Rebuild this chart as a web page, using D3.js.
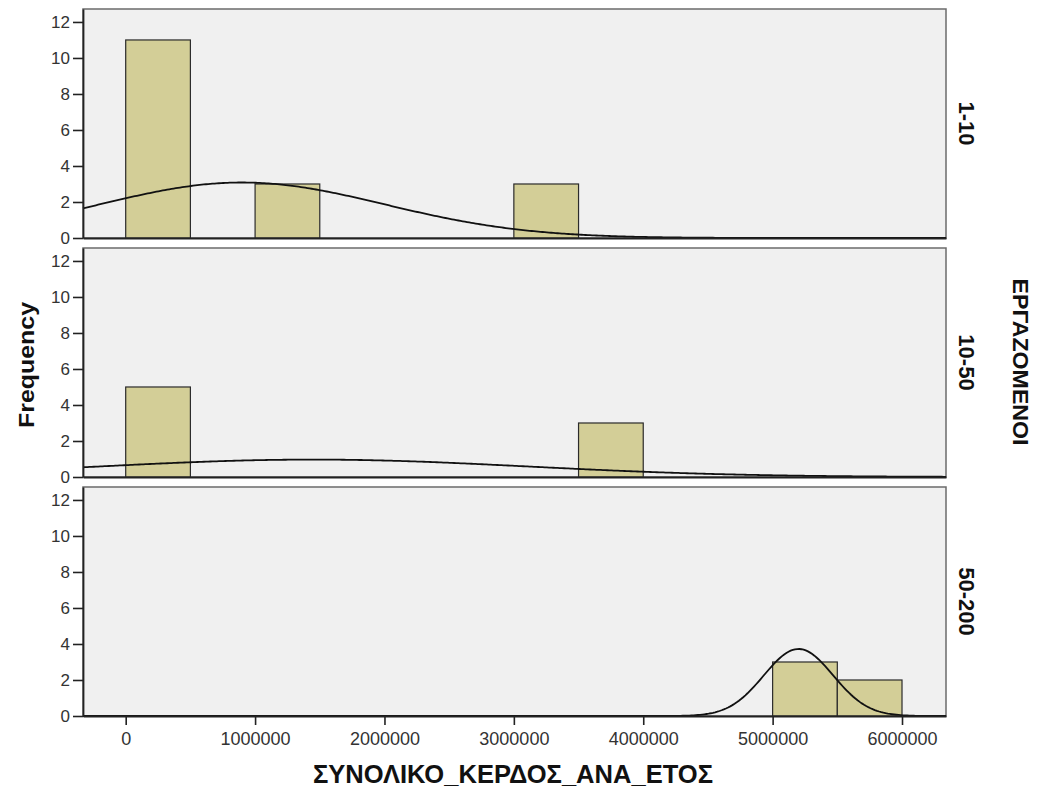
<!DOCTYPE html>
<html><head><meta charset="utf-8">
<script src="https://cdn.jsdelivr.net/npm/d3@7"></script>
<style>body{margin:0;background:#fff}svg{display:block}</style>
</head><body>
<svg id="c" width="1043" height="793"></svg>
<script>
// ---- data ----
const categories = ["1-10", "10-50", "50-200"];
const binEdges = [0, 500000, 1000000, 1500000, 2000000, 2500000, 3000000, 3500000, 4000000, 4500000, 5000000, 5500000, 6000000];
const counts1 = [11, 0, 3, 0, 0, 0, 3, 0, 0, 0, 0, 0];
const counts2 = [5, 0, 0, 0, 0, 0, 0, 3, 0, 0, 0, 0];
const counts3 = [0, 0, 0, 0, 0, 0, 0, 0, 0, 0, 3, 2];
const fitMeans = [900000, 1450000, 5200000];
const fitSDs = [1100000, 1650000, 268000];
const yTicks = [0, 2, 4, 6, 8, 10, 12];
const xTicks = [0, 1000000, 2000000, 3000000, 4000000, 5000000, 6000000];
const xTitle = "ΣΥΝΟΛΙΚΟ_ΚΕΡΔΟΣ_ΑΝΑ_ΕΤΟΣ";
const yTitle = "Frequency";
const facetTitle = "ΕΡΓΑΖΟΜΕΝΟΙ";

const allCounts = [counts1, counts2, counts3];

const svg = d3.select("#c");
const left = 83, right = 946;
const panelTops = [9, 248, 487];
const panelH = 229;
const font = "'Liberation Sans', Arial, sans-serif";

const x = d3.scaleLinear().domain([-330000, 6340000]).range([left, right]);
const binW = binEdges[1] - binEdges[0];

categories.forEach((cat, i) => {
  const top = panelTops[i], bottom = top + panelH;
  const y = d3.scaleLinear().domain([0, 12.72]).range([bottom, top]);
  const g = svg.append("g");
  g.append("rect").attr("x", left).attr("y", top).attr("width", right - left).attr("height", panelH)
    .attr("fill", "#f0f0f0").attr("stroke", "#6b6b6b").attr("stroke-width", 1.5);

  const counts = allCounts[i];
  const n = d3.sum(counts);
  const bins = counts.map((c, k) => ({x0: binEdges[k], x1: binEdges[k + 1], c})).filter(d => d.c > 0);
  g.selectAll("rect.bar").data(bins).join("rect").attr("class", "bar")
    .attr("x", d => x(d.x0)).attr("width", d => x(d.x1) - x(d.x0))
    .attr("y", d => y(d.c)).attr("height", d => y(0) - y(d.c))
    .attr("fill", "#d3ce97").attr("stroke", "#2b2b2b").attr("stroke-width", 1.2);

  // fitted normal curve
  const mu = fitMeans[i], sd = fitSDs[i];
  const pts = d3.range(0, 401).map(k => {
    const xv = x.domain()[0] + (x.domain()[1] - x.domain()[0]) * k / 400;
    const z = (xv - mu) / sd;
    return [xv, n * binW * Math.exp(-0.5 * z * z) / (sd * Math.sqrt(2 * Math.PI))];
  });
  g.append("path").datum(pts)
    .attr("d", d3.line().x(d => x(d[0])).y(d => y(d[1])))
    .attr("fill", "none").attr("stroke", "#111").attr("stroke-width", 1.8);

  // y axis
  const ya = g.append("g").attr("transform", `translate(${left},0)`)
    .call(d3.axisLeft(y).tickValues(yTicks).tickSize(10).tickPadding(3).tickSizeOuter(0));
  ya.select(".domain").attr("stroke", "#222").attr("stroke-width", 1.8);
  ya.selectAll(".tick line").attr("stroke", "#222").attr("stroke-width", 1.6);
  ya.selectAll("text").attr("font-family", font).attr("font-size", 17).attr("fill", "#333");

  // x axis line at bottom
  const xa = g.append("g").attr("transform", `translate(0,${bottom})`)
    .call(d3.axisBottom(x).tickValues(i === 2 ? xTicks : []).tickSize(9).tickPadding(7).tickSizeOuter(0).tickFormat(d3.format("d")));
  xa.select(".domain").attr("stroke", "#222").attr("stroke-width", 1.8);
  xa.selectAll(".tick line").attr("stroke", "#222").attr("stroke-width", 1.6);
  xa.selectAll("text").attr("font-family", font).attr("font-size", 18).attr("fill", "#333");

  // facet label
  const cy = (top + bottom) / 2;
  svg.append("text").attr("transform", `translate(959,${cy}) rotate(90)`)
    .attr("text-anchor", "middle").attr("font-family", font).attr("font-weight", "bold")
    .attr("font-size", 22).attr("fill", "#111").text(cat);
});

svg.append("text").attr("transform", `translate(34,365) rotate(-90)`)
  .attr("text-anchor", "middle").attr("font-family", font).attr("font-weight", "bold")
  .attr("font-size", 22).attr("textLength", 126).attr("lengthAdjust", "spacingAndGlyphs")
  .attr("fill", "#111").text(yTitle);

svg.append("text").attr("x", 513).attr("y", 783)
  .attr("text-anchor", "middle").attr("font-family", font).attr("font-weight", "bold")
  .attr("font-size", 25).attr("textLength", 400).attr("lengthAdjust", "spacingAndGlyphs")
  .attr("fill", "#111").text(xTitle);

svg.append("text").attr("transform", `translate(1013,362) rotate(90)`)
  .attr("text-anchor", "middle").attr("font-family", font).attr("font-weight", "bold")
  .attr("font-size", 22).attr("textLength", 167).attr("lengthAdjust", "spacingAndGlyphs")
  .attr("fill", "#111").text(facetTitle);
</script>
</body></html>
